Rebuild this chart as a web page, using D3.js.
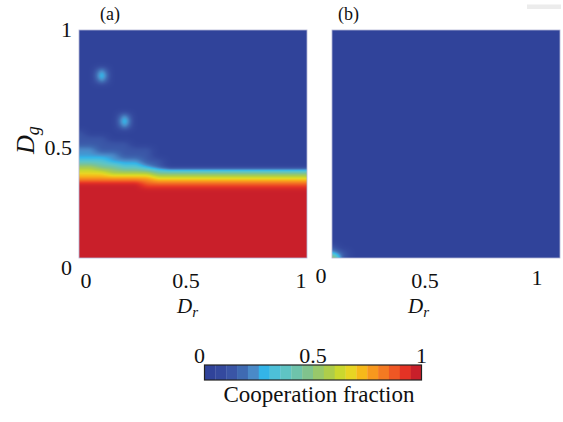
<!DOCTYPE html>
<html>
<head>
<meta charset="utf-8">
<script src="https://cdn.jsdelivr.net/npm/d3@7"></script>
<style>
body { margin: 0; background: #fff; }
svg { display: block; }
text { font-family: "Liberation Serif", "Times New Roman", serif; fill: #111; }
</style>
</head>
<body>
<div id="chart"></div>
<script>
var WIDTH = 563, HEIGHT = 422;

// cooperation fraction on a grid: rows go from Dg = 1 (top) down to Dg = 0, step 0.025
// columns go from Dr = 0 to Dr = 1, step 0.05. each digit d means d/9
const gridA = [
  "000000000000000000000",
  "000000000000000000000",
  "000000000000000000000",
  "000000000000000000000",
  "000000000000000000000",
  "000000000000000000000",
  "000000000000000000000",
  "002000000000000000000",
  "003000000000000000000",
  "002000000000000000000",
  "000000000000000000000",
  "000000000000000000000",
  "000000000000000000000",
  "000000000000000000000",
  "000000000000000000000",
  "000020000000000000000",
  "000030000000000000000",
  "000020000000000000000",
  "100000000000000000000",
  "111000000000000000000",
  "111110000000000000000",
  "221111100000000000000",
  "222211100000000000000",
  "333222110000000000000",
  "554433210000000000000",
  "666555544444444444444",
  "777777766666666666666",
  "999999888888888888888",
  "999999999999999999999",
  "999999999999999999999",
  "999999999999999999999",
  "999999999999999999999",
  "999999999999999999999",
  "999999999999999999999",
  "999999999999999999999",
  "999999999999999999999",
  "999999999999999999999",
  "999999999999999999999",
  "999999999999999999999",
  "999999999999999999999",
  "999999999999999999999"
];
const gridB = d3.range(38).map(() => "000000000000000000000").concat([
  "100000000000000000000",
  "210000000000000000000",
  "610000000000000000000"
]);

const panelLabels = ["(a)", "(b)"];
const axisTicks = [0, 0.5, 1];
const barTicks = [0, 0.5, 1];
const colormap = ["#30439a", "#34499e", "#3a55a6", "#3f6ab2", "#4a8ac8", "#33b4e8", "#4dc0d8",
  "#5fc4c4", "#6ec3ab", "#80c38d", "#98c86a", "#aecd4a", "#cbd82e", "#e8d523", "#f6b91a",
  "#f7981e", "#f47a22", "#ef5724", "#e53325", "#c91f2a"];

const TOP = 30, BOTTOM = 258, PW = 228;
const panelLeft = [79, 332];
// small nudges of the tick labels as they sit in the original figure
const xTickDx = [[7, -7, -6], [-11, -21, -23]];
const xTickDy = [[0, 0, 0], [-5, 0, -3]];
const yTickDy = [17, 11, 7];

const svg = d3.select("#chart").append("svg").attr("width", WIDTH).attr("height", HEIGHT);
const color = d3.scaleLinear().domain(colormap.map((c, i) => i / (colormap.length - 1))).range(colormap).clamp(true);

function sample(grid, dr, dg) {
  const cols = grid[0].length - 1, rows = grid.length - 1;
  const fx = Math.max(0, Math.min(cols, dr * cols)), fy = Math.max(0, Math.min(rows, (1 - dg) * rows));
  const i0 = Math.min(cols - 1, Math.floor(fx)), j0 = Math.min(rows - 1, Math.floor(fy));
  const tx = fx - i0, ty = fy - j0;
  const v = (i, j) => +grid[j][i] / 9;
  return (v(i0, j0) * (1 - tx) + v(i0 + 1, j0) * tx) * (1 - ty) + (v(i0, j0 + 1) * (1 - tx) + v(i0 + 1, j0 + 1) * tx) * ty;
}

// soften the interpolated field a little (gaussian, edges clamped)
function smooth(vals, w, h, sigma) {
  const r = Math.ceil(sigma * 3);
  const k = d3.range(-r, r + 1).map(d => Math.exp(-d * d / (2 * sigma * sigma)));
  const ks = d3.sum(k);
  const tmp = new Float32Array(w * h), out = new Float32Array(w * h);
  for (let j = 0; j < h; j++) for (let i = 0; i < w; i++) {
    let s = 0;
    for (let d = -r; d <= r; d++) s += k[d + r] * vals[j * w + Math.max(0, Math.min(w - 1, i + d))];
    tmp[j * w + i] = s / ks;
  }
  for (let j = 0; j < h; j++) for (let i = 0; i < w; i++) {
    let s = 0;
    for (let d = -r; d <= r; d++) s += k[d + r] * tmp[Math.max(0, Math.min(h - 1, j + d)) * w + i];
    out[j * w + i] = s / ks;
  }
  return out;
}

function drawPanel(grid, k) {
  const x0 = panelLeft[k];
  const x = d3.scaleLinear().domain([0, 1]).range([x0, x0 + PW]);
  const y = d3.scaleLinear().domain([0, 1]).range([BOTTOM, TOP]);
  const w = PW, h = BOTTOM - TOP;
  let vals = new Float32Array(w * h);
  for (let j = 0; j < h; j++) {
    const dg = y.invert(TOP + j + 0.5);
    for (let i = 0; i < w; i++) vals[j * w + i] = sample(grid, x.invert(x0 + i + 0.5), dg);
  }
  vals = smooth(vals, w, h, 2.2);
  const canvas = document.createElement("canvas");
  canvas.width = w; canvas.height = h;
  const ctx = canvas.getContext("2d");
  const img = ctx.createImageData(w, h);
  for (let p = 0; p < w * h; p++) {
    const c = d3.rgb(color(vals[p]));
    img.data[p * 4] = c.r; img.data[p * 4 + 1] = c.g; img.data[p * 4 + 2] = c.b; img.data[p * 4 + 3] = 255;
  }
  ctx.putImageData(img, 0, 0);
  svg.append("image").attr("href", canvas.toDataURL()).attr("x", x0).attr("y", TOP)
    .attr("width", w).attr("height", h).attr("preserveAspectRatio", "none");
  svg.append("rect").attr("x", x0).attr("y", TOP).attr("width", w).attr("height", h)
    .attr("fill", "none").attr("stroke", "#b3b6d6").attr("stroke-width", 0.8);

  // x tick labels
  axisTicks.forEach((t, i) => {
    svg.append("text").attr("x", x(t) + xTickDx[k][i]).attr("y", 288 + xTickDy[k][i])
      .attr("text-anchor", "middle").attr("font-size", 22).text(t);
  });
  // x axis label
  const xl = svg.append("text").attr("x", x(0.5) - 16 + (k ? -22 : 0)).attr("y", 313).attr("font-size", 21).attr("font-style", "italic");
  xl.append("tspan").text("D");
  xl.append("tspan").attr("dy", 4).attr("font-size", 15).text("r");

  svg.append("text").attr("x", x0 + 21 + (k ? -15 : 0)).attr("y", 20).attr("font-size", 18).text(panelLabels[k]);

  if (k == 0) {
    axisTicks.forEach((t, i) => {
      svg.append("text").attr("x", 72).attr("y", y(t) + yTickDy[i])
        .attr("text-anchor", "end").attr("font-size", 22).text(t);
    });
    const yl = svg.append("text").attr("transform", "translate(34,154) rotate(-90)").attr("font-size", 26).attr("font-style", "italic");
    yl.append("tspan").text("D");
    yl.append("tspan").attr("dy", 5).attr("font-size", 18).text("g");
  }
}

drawPanel(gridA, 0);
drawPanel(gridB, 1);

// faint grey mark at the top right of the original
svg.append("rect").attr("x", 527).attr("y", 4.5).attr("width", 34).attr("height", 4.5).attr("fill", "#ececec");

// colour bar
const bx = d3.scaleLinear().domain([0, 1]).range([204.5, 421.5]);
const n = colormap.length;
svg.selectAll(".seg").data(colormap).enter().append("rect").attr("class", "seg")
  .attr("x", (d, i) => bx(i / n)).attr("y", 365)
  .attr("width", (d, i) => bx((i + 1) / n) - bx(i / n) + 0.3).attr("height", 15)
  .attr("fill", d => d);
svg.append("rect").attr("x", bx(0)).attr("y", 365).attr("width", bx(1) - bx(0)).attr("height", 15)
  .attr("fill", "none").attr("stroke", "#222").attr("stroke-width", 1.2);
const barDx = [-5, 0, 0];
barTicks.forEach((t, i) => {
  svg.append("text").attr("x", bx(t) + barDx[i]).attr("y", 363).attr("text-anchor", "middle")
    .attr("font-size", 22).text(t);
});
svg.append("text").attr("x", bx(0.5) + 6).attr("y", 402).attr("text-anchor", "middle")
  .attr("font-size", 23).text("Cooperation fraction");
</script>
</body>
</html>
